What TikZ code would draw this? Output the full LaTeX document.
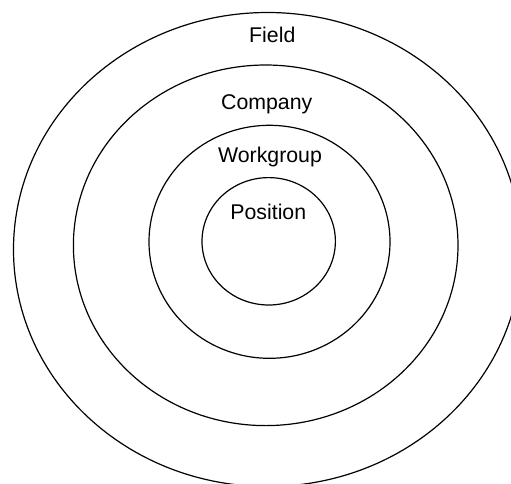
\documentclass[tikz,border=0pt]{standalone}
\usepackage{fontspec}
\setmainfont{Liberation Sans}
\usepackage{tikz}
\usetikzlibrary{positioning}

\begin{document}
\begin{tikzpicture}[x=1pt, y=-1pt, ring/.style={draw=black, line width=1.2pt}, ringlabel/.style={font=\fontsize{21.3}{25}\selectfont, inner sep=0pt}]
\useasboundingbox (0,0) rectangle (511,483);

% rings, outermost first
\foreach \name/\cx/\cy/\rx/\ry in {%
field/267.5/249.5/254/237,%
company/265.7/245.3/192.3/180.3,%
workgroup/269.5/241.8/120.5/116.5,%
position/268.7/241.3/66.7/63.7%
}{
  \draw[ring] (\cx,\cy) ellipse [x radius=\rx, y radius=\ry];
}

\node[ringlabel] (fieldlbl) at (272.3,35) {Field};
\node[ringlabel] (companylbl) at (266.7,104) {Company};
\node[ringlabel] (workgrouplbl) at (270,156.7) {Workgroup};
\node[ringlabel] (positionlbl) at (268.3,211.7) {Position};
\end{tikzpicture}
\end{document}
